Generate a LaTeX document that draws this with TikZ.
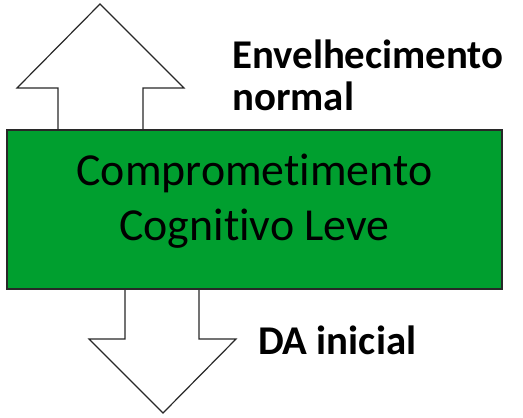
\documentclass[tikz,border=0pt]{standalone}
\usepackage{fontspec}
\setmainfont{Carlito}[Ligatures=NoCommon]
\usetikzlibrary{positioning}

\definecolor{cclgreen}{RGB}{0,159,47}
\definecolor{edgegray}{RGB}{40,40,40}

\tikzset{
  blockarrow/.style={draw=edgegray, line width=1.2bp, fill=white, line join=miter},
  boxccl/.style={draw=edgegray, line width=1.5bp, fill=cclgreen,
    minimum width=495bp, minimum height=159bp, inner sep=0pt},
  ccltext/.style={align=center, inner sep=0pt,
    font=\fontsize{46}{55}\selectfont},
  sidelabel/.style={align=left, inner sep=0pt, anchor=base west,
    font=\bfseries\fontsize{41}{42}\selectfont}
}

\begin{document}
\begin{tikzpicture}[x=1bp, y=-1bp]
        \useasboundingbox (0,0) rectangle (523,417);
        % arrows behind the box
        \draw[blockarrow] (58,131) -- (58,88) -- (17,88) -- (100,4)
              -- (184,88) -- (143,88) -- (143,131);
        \draw[blockarrow] (125,288) -- (125,339) -- (89,339) -- (163,413)
              -- (236,339) -- (199,339) -- (199,288);
        \node[boxccl] (ccl) at (254.5,209.5) {};
        \node[ccltext] (cclname) at ([yshift=8bp]ccl.center) {Comprometimento\\Cognitivo Leve};
        \node[sidelabel] (normal) at (232,110) {Envelhecimento\\normal};
        \node[sidelabel] (inicial) at (258,354) {DA inicial};
\end{tikzpicture}
\end{document}
